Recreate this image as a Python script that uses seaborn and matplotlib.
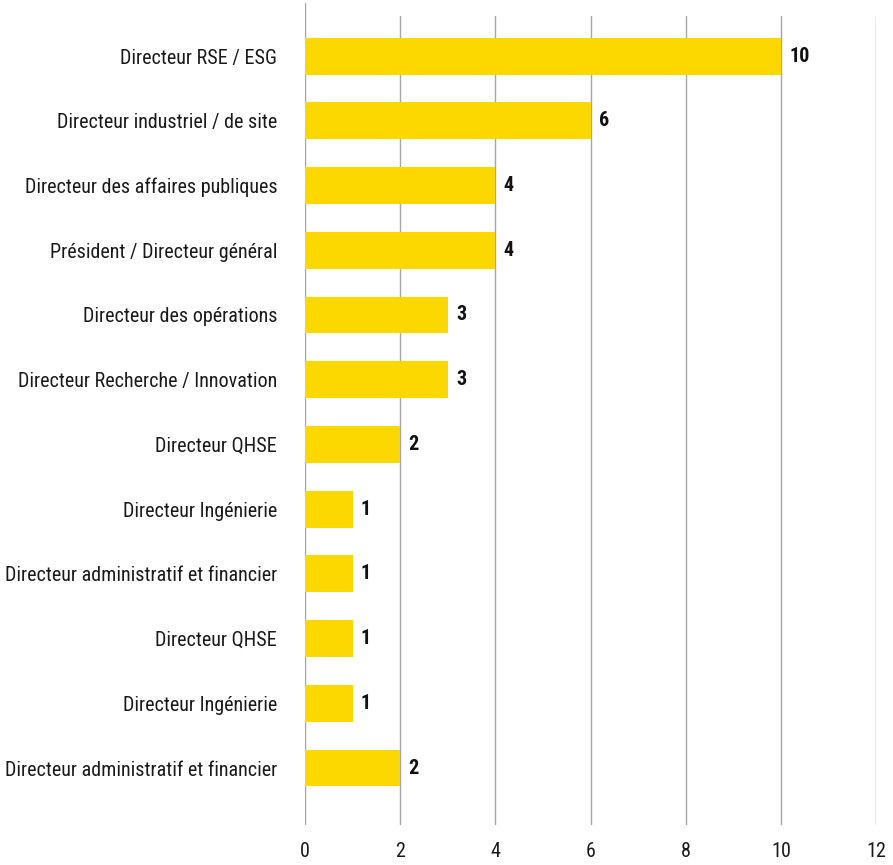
import matplotlib
matplotlib.use("Agg")
import matplotlib.pyplot as plt
import seaborn as sns
import pandas as pd

# Job titles and their counts, top to bottom
roles = [
    "Directeur RSE / ESG",
    "Directeur industriel / de site",
    "Directeur des affaires publiques",
    "Président / Directeur général",
    "Directeur des opérations",
    "Directeur Recherche / Innovation",
    "Directeur QHSE",
    "Directeur Ingénierie",
    "Directeur administratif et financier",
    "Directeur QHSE",
    "Directeur Ingénierie",
    "Directeur administratif et financier",
]
counts = [10, 6, 4, 4, 3, 3, 2, 1, 1, 1, 1, 2]
x_ticks = [0, 2, 4, 6, 8, 10, 12]

bar_color = "#FDD700"
grid_color = "#A6A6A6"

sns.set_theme(style="white")
plt.rcParams["font.family"] = ["Roboto Condensed", "DejaVu Sans"]

# Positions are used as the category key so duplicate titles stay separate rows
df = pd.DataFrame({"pos": [str(i) for i in range(len(roles))], "count": counts})

fig = plt.figure(figsize=(8.93, 8.65), dpi=100)
ax = fig.add_axes([305 / 893, 1 - 825 / 865, (876 - 305) / 893, (825 - 3) / 865])

sns.barplot(data=df, x="count", y="pos", color=bar_color, saturation=1,
            width=0.57, orient="h", ax=ax, zorder=2, linewidth=0)

ax.set_xlim(0, 12)
ax.set_ylim(len(roles) - 1 + 0.88, -0.82)

# Vertical gridlines; the zero line runs to the top of the frame
for t in x_ticks:
    top = 1.0 if t == 0 else 0.984
    ax.axvline(t, ymin=0, ymax=top, color=grid_color, lw=1.0, zorder=1)

for s in ax.spines.values():
    s.set_visible(False)

ax.set_xticks(x_ticks)
ax.set_xticklabels([str(t) for t in x_ticks], fontsize=14.5, color="#1a1a1a")
ax.set_yticks(range(len(roles)))
ax.set_yticklabels(roles, fontsize=14.5, color="#1a1a1a")
ax.tick_params(axis="x", length=0, pad=12)
ax.tick_params(axis="y", length=0, pad=20)
ax.set_xlabel("")
ax.set_ylabel("")

for container in ax.containers:
    ax.bar_label(container, labels=[str(v) for v in counts], padding=6,
                 fontsize=14.5, fontweight="bold", color="#111111")

fig.savefig("out.png", dpi=100)
